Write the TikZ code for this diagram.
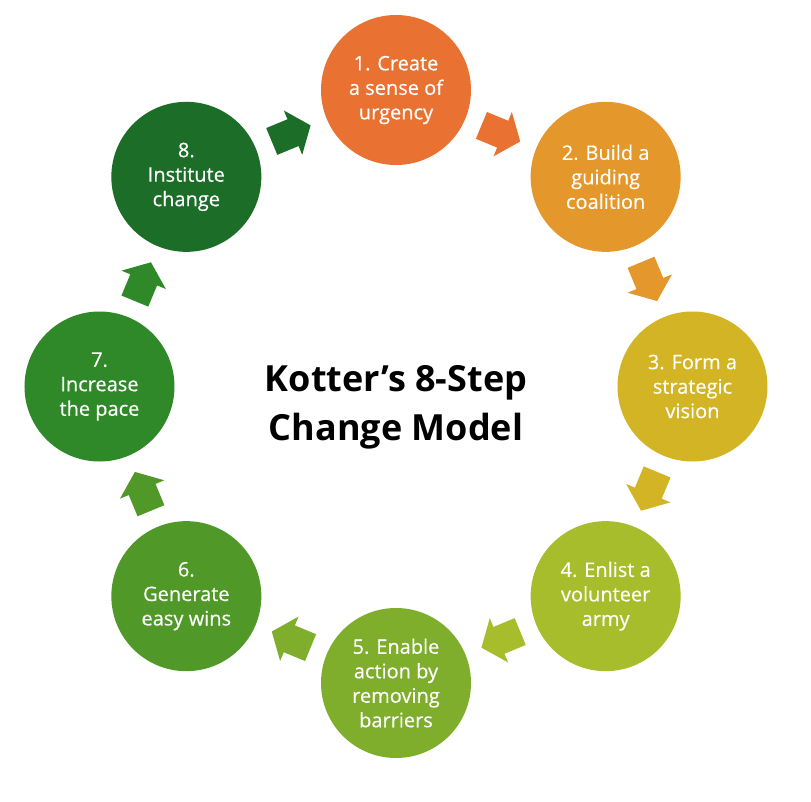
\documentclass[tikz,border=0pt]{standalone}
\usepackage{fontspec}
\setmainfont{Open Sans}
\usetikzlibrary{calc}
\definecolor{c1}{RGB}{233,114,50}
\definecolor{c2}{RGB}{228,151,42}
\definecolor{c3}{RGB}{211,180,36}
\definecolor{c4}{RGB}{168,189,44}
\definecolor{c5}{RGB}{126,174,44}
\definecolor{c6}{RGB}{80,152,40}
\definecolor{c7}{RGB}{47,137,40}
\definecolor{c8}{RGB}{28,109,40}
\newcommand{\blockarrowfrom}[3]{%
  \fill[#3] let \p1=($(#2)-(#1)$), \n1={atan2(\y1,\x1)} in
    [shift={($(#1)!0.5!(#2)$)}, rotate=\n1]
    (-21,-14.5) -- (2,-14.5) -- (2,-24) -- (21,0) -- (2,24) -- (2,14.5) -- (-21,14.5) -- cycle;}
\begin{document}
\begin{tikzpicture}[x=1pt,y=1pt,
  stepcirc/.style={circle, minimum size=150pt, inner sep=0pt, text=white, align=center,
    font=\fontsize{20}{24.5}\selectfont\addfontfeatures{FakeBold=0.4}},
  titletext/.style={align=center, font=\fontsize{36}{49}\selectfont\bfseries, text=black}
  ]
\useasboundingbox (-396,-414.5) rectangle (415,386.5);
\fill[white] (-396,-414.5) rectangle (415,386.5);
\node[stepcirc, fill=c1] (s1) at (90:296.5pt) {1. Create\\a sense of\\urgency};
\node[stepcirc, fill=c2] (s2) at (45:296.5pt) {2. Build a\\guiding\\coalition};
\node[stepcirc, fill=c3] (s3) at (0:296.5pt) {3. Form a\\strategic\\vision};
\node[stepcirc, fill=c4] (s4) at (-45:296.5pt) {4. Enlist a\\volunteer\\army};
\node[stepcirc, fill=c5] (s5) at (-90:296.5pt) {5. Enable\\action by\\removing\\barriers};
\node[stepcirc, fill=c6] (s6) at (-135:296.5pt) {6.\\Generate\\easy wins};
\node[stepcirc, fill=c7] (s7) at (180:296.5pt) {7.\\Increase\\the pace};
\node[stepcirc, fill=c8] (s8) at (135:296.5pt) {8.\\Institute\\change};
\blockarrowfrom{s1.center}{s2.center}{c1}
\blockarrowfrom{s2.center}{s3.center}{c2}
\blockarrowfrom{s3.center}{s4.center}{c3}
\blockarrowfrom{s4.center}{s5.center}{c4}
\blockarrowfrom{s5.center}{s6.center}{c5}
\blockarrowfrom{s6.center}{s7.center}{c6}
\blockarrowfrom{s7.center}{s8.center}{c7}
\blockarrowfrom{s8.center}{s1.center}{c8}
\node[titletext] (title) at (0,-21) {Kotter’s 8-Step\\Change Model};
\end{tikzpicture}
\end{document}
